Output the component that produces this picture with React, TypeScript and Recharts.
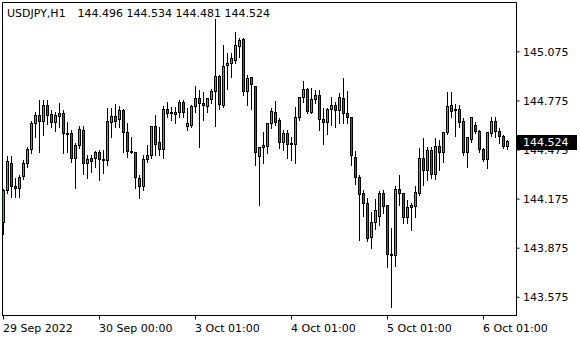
import React from 'react';
import { ComposedChart, Bar, XAxis, YAxis, ReferenceArea } from 'recharts';

const symbolLabel = 'USDJPY,H1';
const headerValues = '144.496 144.534 144.481 144.524';

const opens = [
  144.029, 144.225, 144.390, 144.249, 144.237, 144.316, 144.390, 144.475, 144.634, 144.683,
  144.652, 144.744, 144.689, 144.646, 144.677, 144.701, 144.573, 144.573, 144.426, 144.500,
  144.597, 144.390, 144.426, 144.426, 144.457, 144.420, 144.408, 144.646, 144.677, 144.664,
  144.719, 144.579, 144.463, 144.457, 144.298, 144.249, 144.414, 144.444, 144.616, 144.518,
  144.475, 144.725, 144.701, 144.689, 144.707, 144.768, 144.616, 144.622, 144.738, 144.787,
  144.762, 144.738, 144.781, 144.830, 144.927, 144.744, 144.994, 145.006, 145.019, 145.110,
  145.153, 144.830, 144.915, 144.866, 144.438, 144.488, 144.494, 144.634, 144.707, 144.658,
  144.518, 144.573, 144.512, 144.506, 144.671, 144.793, 144.842, 144.707, 144.781, 144.811,
  144.664, 144.640, 144.725, 144.744, 144.719, 144.787, 144.695, 144.671, 144.432, 144.310,
  144.212, 144.151, 143.938, 144.035, 144.066, 144.212, 144.133, 143.834, 143.828, 144.231,
  144.212, 144.060, 144.121, 144.127, 144.212, 144.426, 144.347, 144.469, 144.328, 144.494,
  144.457, 144.579, 144.744, 144.725, 144.725, 144.652, 144.457, 144.542, 144.622, 144.585,
  144.475, 144.420, 144.573, 144.652, 144.585, 144.555, 144.496,
];

const highs = [
  144.237, 144.438, 144.438, 144.304, 144.322, 144.414, 144.494, 144.652, 144.707, 144.781,
  144.781, 144.781, 144.719, 144.707, 144.762, 144.719, 144.646, 144.597, 144.518, 144.622,
  144.622, 144.444, 144.444, 144.469, 144.475, 144.475, 144.732, 144.732, 144.756, 144.744,
  144.725, 144.640, 144.555, 144.463, 144.322, 144.444, 144.506, 144.622, 144.689, 144.616,
  144.744, 144.768, 144.738, 144.738, 144.781, 144.781, 144.732, 144.750, 144.866, 144.842,
  144.830, 144.793, 144.848, 145.275, 144.933, 145.116, 145.068, 145.068, 145.196, 145.159,
  145.159, 144.933, 144.921, 144.866, 144.494, 144.585, 144.640, 144.732, 144.774, 144.671,
  144.597, 144.597, 144.555, 144.738, 144.799, 144.897, 144.854, 144.854, 144.842, 144.842,
  144.732, 144.732, 144.799, 144.768, 144.823, 144.915, 144.836, 144.677, 144.469, 144.322,
  144.231, 144.182, 144.096, 144.176, 144.225, 144.231, 144.139, 143.999, 144.255, 144.322,
  144.215, 144.170, 144.151, 144.255, 144.488, 144.549, 144.494, 144.494, 144.549, 144.536,
  144.585, 144.830, 144.830, 144.756, 144.750, 144.671, 144.555, 144.677, 144.646, 144.597,
  144.488, 144.585, 144.677, 144.677, 144.610, 144.567, 144.534,
];

const lows = [
  143.962, 144.212, 144.188, 144.188, 144.188, 144.298, 144.371, 144.457, 144.555, 144.463,
  144.567, 144.634, 144.616, 144.591, 144.616, 144.457, 144.463, 144.402, 144.243, 144.488,
  144.328, 144.304, 144.341, 144.371, 144.292, 144.334, 144.383, 144.555, 144.616, 144.616,
  144.463, 144.432, 144.457, 144.243, 144.182, 144.231, 144.402, 144.426, 144.444, 144.444,
  144.426, 144.677, 144.658, 144.640, 144.677, 144.677, 144.597, 144.616, 144.707, 144.494,
  144.658, 144.707, 144.762, 144.622, 144.725, 144.738, 144.848, 144.921, 145.006, 145.043,
  144.811, 144.750, 144.725, 144.383, 144.139, 144.396, 144.457, 144.610, 144.628, 144.488,
  144.475, 144.426, 144.414, 144.396, 144.658, 144.768, 144.701, 144.701, 144.762, 144.597,
  144.512, 144.573, 144.628, 144.616, 144.640, 144.640, 144.640, 144.383, 144.267, 143.925,
  144.072, 143.919, 143.877, 143.993, 144.017, 144.090, 143.761, 143.516, 143.767, 144.139,
  144.029, 144.029, 143.987, 144.066, 144.200, 144.261, 144.292, 144.304, 144.298, 144.353,
  144.402, 144.573, 144.677, 144.561, 144.616, 144.444, 144.371, 144.524, 144.579, 144.463,
  144.408, 144.365, 144.561, 144.555, 144.518, 144.488, 144.481,
];

const closes = [
  144.225, 144.402, 144.249, 144.237, 144.310, 144.390, 144.475, 144.634, 144.683, 144.652,
  144.744, 144.683, 144.646, 144.683, 144.695, 144.573, 144.572, 144.426, 144.500, 144.603,
  144.390, 144.420, 144.402, 144.457, 144.414, 144.408, 144.652, 144.677, 144.652, 144.719,
  144.579, 144.463, 144.462, 144.304, 144.255, 144.420, 144.444, 144.616, 144.506, 144.481,
  144.725, 144.701, 144.707, 144.707, 144.768, 144.707, 144.634, 144.738, 144.787, 144.762,
  144.744, 144.787, 144.830, 144.927, 144.750, 144.987, 145.006, 145.037, 145.116, 145.147,
  144.830, 144.909, 144.878, 144.457, 144.488, 144.500, 144.634, 144.713, 144.646, 144.518,
  144.573, 144.506, 144.511, 144.671, 144.793, 144.842, 144.713, 144.781, 144.811, 144.664,
  144.640, 144.725, 144.744, 144.719, 144.793, 144.695, 144.671, 144.444, 144.310, 144.206,
  144.151, 143.932, 144.029, 144.108, 144.212, 144.127, 143.834, 143.833, 144.231, 144.212,
  144.060, 144.121, 144.133, 144.218, 144.426, 144.347, 144.469, 144.328, 144.494, 144.457,
  144.579, 144.738, 144.713, 144.719, 144.646, 144.457, 144.549, 144.671, 144.585, 144.475,
  144.420, 144.579, 144.652, 144.585, 144.555, 144.494, 144.524,
];

const xTickIndex = [0, 24, 48, 72, 96, 120];
const xTickLabels = ['29 Sep 2022', '30 Sep 00:00', '3 Oct 01:00', '4 Oct 01:00', '5 Oct 01:00', '6 Oct 01:00'];
const priceTicks = [143.575, 143.875, 144.175, 144.475, 144.775, 145.075];
const lastPrice = 144.524;
const yDomain: [number, number] = [143.4638, 145.3762];
const xDomain: [number, number] = [-0.25, 128.25];

const data = opens.map((o, i) => ({
  idx: i,
  open: o,
  high: highs[i],
  low: lows[i],
  close: closes[i],
  range: [lows[i], highs[i]],
}));

const FONT = 'DejaVu Sans';
const UP = '#22cc22';
const DOWN = '#e31b1b';

const Candle = (props: any) => {
  const { x, y, width, height, payload } = props;
  if (!payload || x == null || y == null) return null;
  const hi = payload.high;
  const lo = payload.low;
  const span = hi - lo || 1;
  const py = (p: number) => y + ((hi - p) / span) * height;
  const cx = Math.floor(x + width / 2);
  const top = Math.max(payload.open, payload.close);
  const bot = Math.min(payload.open, payload.close);
  const bTop = Math.floor(py(top)) + 0.5;
  const bBot = Math.floor(py(bot)) + 0.5;
  const up = payload.close > payload.open;
  return (
    <g>
      <line x1={cx + 0.5} x2={cx + 0.5} y1={Math.round(y)} y2={Math.round(y + height) + 1} stroke="#000" strokeWidth={1} />
      {bBot - bTop < 1 ? (
        <line x1={cx - 1} x2={cx + 2} y1={bTop} y2={bTop} stroke="#000" strokeWidth={1} />
      ) : (
        <rect x={cx - 0.5} y={bTop} width={2} height={bBot - bTop} fill={up ? UP : DOWN} stroke="#000" strokeWidth={1} />
      )}
    </g>
  );
};

const XTick = (props: any) => {
  const { x, payload } = props;
  const k = xTickIndex.indexOf(payload.value);
  return (
    <text x={x - 0.5} y={332} textAnchor="start" fontFamily={FONT} fontSize={11} fill="#000">
      {k >= 0 ? xTickLabels[k] : ''}
    </text>
  );
};

const YTick = (props: any) => {
  const { y, payload } = props;
  const v = payload.value;
  if (v === lastPrice) {
    const ry = Math.round(y) - 7;
    return (
      <g>
        <rect x={517} y={ry} width={60} height={15} fill="#000" />
        <text x={523} y={y + 4} textAnchor="start" fontFamily={FONT} fontSize={11} fill="#fff">
          {v.toFixed(3)}
        </text>
      </g>
    );
  }
  return (
    <text x={523} y={y + 4} textAnchor="start" fontFamily={FONT} fontSize={11} fill="#000">
      {v.toFixed(3)}
    </text>
  );
};

export default function App() {
  return (
    <div style={{ position: 'absolute', left: 0, top: 0, width: 580, height: 340, background: '#fff' }}>
      <ComposedChart
        width={580}
        height={340}
        data={data}
        margin={{ top: 2.5, right: 0.5, bottom: 0.5, left: 2.5 }}
      >
        <ReferenceArea
          x1={xDomain[0]}
          x2={xDomain[1]}
          y1={yDomain[0]}
          y2={yDomain[1]}
          fill="none"
          fillOpacity={0}
          stroke="#000"
          strokeWidth={1}
          ifOverflow="visible"
        />
        <XAxis
          dataKey="idx"
          type="number"
          domain={xDomain}
          allowDataOverflow
          ticks={xTickIndex}
          interval={0}
          tickSize={4}
          height={24}
          axisLine={{ stroke: '#000' }}
          tickLine={{ stroke: '#000' }}
          tick={<XTick />}
        />
        <YAxis
          orientation="right"
          type="number"
          domain={yDomain}
          allowDataOverflow
          ticks={[...priceTicks, lastPrice]}
          interval={0}
          tickSize={3}
          width={63}
          axisLine={{ stroke: '#000' }}
          tickLine={{ stroke: '#000' }}
          tick={<YTick />}
        />
        <Bar dataKey="range" barSize={2} isAnimationActive={false} shape={<Candle />} />
      </ComposedChart>
      <svg width={580} height={22} style={{ position: 'absolute', left: 0, top: 0, pointerEvents: 'none' }}>
        <text x={7} y={16.5} fontFamily={FONT} fontSize={11} fill="#000">{symbolLabel}</text>
        <text x={77.5} y={16.5} fontFamily={FONT} fontSize={11} fill="#000">{headerValues}</text>
      </svg>
    </div>
  );
}
